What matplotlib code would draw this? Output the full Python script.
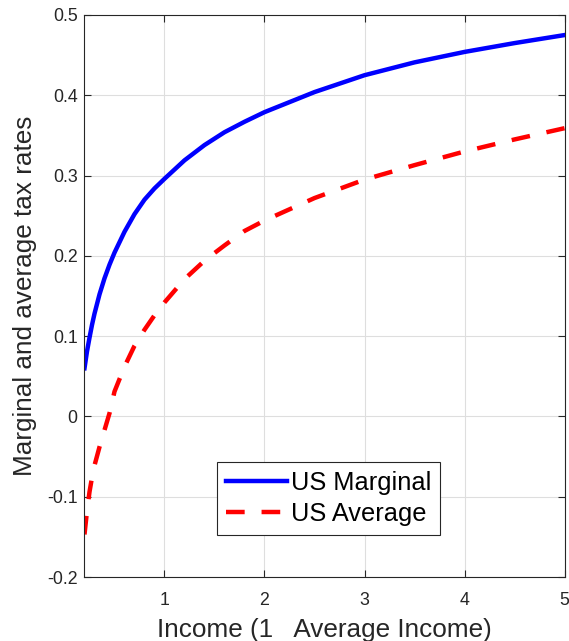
import numpy as np
import matplotlib
matplotlib.use('Agg')
import matplotlib.pyplot as plt
from matplotlib.ticker import FuncFormatter

# 读图估计的数据点
income_marg = [0.2, 0.225, 0.25, 0.275, 0.3, 0.35, 0.4, 0.45, 0.5, 0.6, 0.7, 0.8, 0.9, 1.0,
               1.2, 1.4, 1.6, 1.8, 2.0, 2.5, 3.0, 3.5, 4.0, 4.5, 5.0]
us_marginal = [0.06, 0.081, 0.098, 0.114, 0.128, 0.152, 0.172, 0.189, 0.204, 0.23, 0.252,
               0.27, 0.284, 0.296, 0.319, 0.338, 0.354, 0.367, 0.379, 0.404, 0.425, 0.441,
               0.454, 0.465, 0.475]

income_avg = [0.2, 0.225, 0.25, 0.275, 0.3, 0.35, 0.4, 0.45, 0.5, 0.6, 0.7, 0.8, 0.9, 1.0,
              1.2, 1.4, 1.6, 1.8, 2.0, 2.5, 3.0, 3.5, 4.0, 4.5, 5.0]
us_average = [-0.147, -0.118, -0.094, -0.076, -0.061, -0.038, -0.017, 0.004, 0.031, 0.062,
              0.088, 0.108, 0.126, 0.142, 0.171, 0.194, 0.213, 0.231, 0.244, 0.272, 0.295,
              0.313, 0.33, 0.345, 0.359]

x_ticks = [1, 2, 3, 4, 5]
y_ticks = [-0.2, -0.1, 0, 0.1, 0.2, 0.3, 0.4, 0.5]

plt.rcParams['font.family'] = ['Liberation Sans', 'DejaVu Sans']
plt.rcParams['axes.unicode_minus'] = False

fig = plt.figure(figsize=(5.69, 6.41), dpi=100)
ax = fig.add_axes([0.1485, 0.0998, 0.8436, 0.8768])

ax.plot(income_marg, us_marginal, color='#0000ff', lw=3.2, label='US Marginal')
ax.plot(income_avg, us_average, color='#ff0000', lw=3.2, dashes=(4.2, 3.8),
        label='US Average')

ax.set_xlim(0.2, 5)
ax.set_ylim(-0.2, 0.5)
ax.set_xticks(x_ticks)
ax.set_yticks(y_ticks)
ax.yaxis.set_major_formatter(FuncFormatter(lambda v, p: '%g' % round(v, 2)))

# 网格与坐标轴样式 (MATLAB 风格)
ax.grid(True, color='#dedede', lw=0.8)
ax.set_axisbelow(True)
for s in ax.spines.values():
    s.set_color('#262626')
    s.set_linewidth(0.8)
ax.tick_params(direction='in', top=True, right=True, length=5, width=0.8,
               colors='#262626', labelsize=12.8)
ax.tick_params(axis='x', pad=10.5)
ax.tick_params(axis='y', pad=5)

ax.set_xlabel('Income (1   Average Income)', fontsize=18.8, color='#262626', labelpad=7)
ax.set_ylabel('Marginal and average tax rates', fontsize=18.8, color='#262626', labelpad=7)

leg = ax.legend(loc='upper left', bbox_to_anchor=(0.2754, 0.2052), fontsize=18.3,
                fancybox=False, framealpha=1, edgecolor='#262626', handlelength=2.4,
                handletextpad=0.15, borderpad=0.36, labelspacing=0.28, borderaxespad=0)
leg.get_frame().set_linewidth(0.8)

fig.savefig('out.png', dpi=100)
